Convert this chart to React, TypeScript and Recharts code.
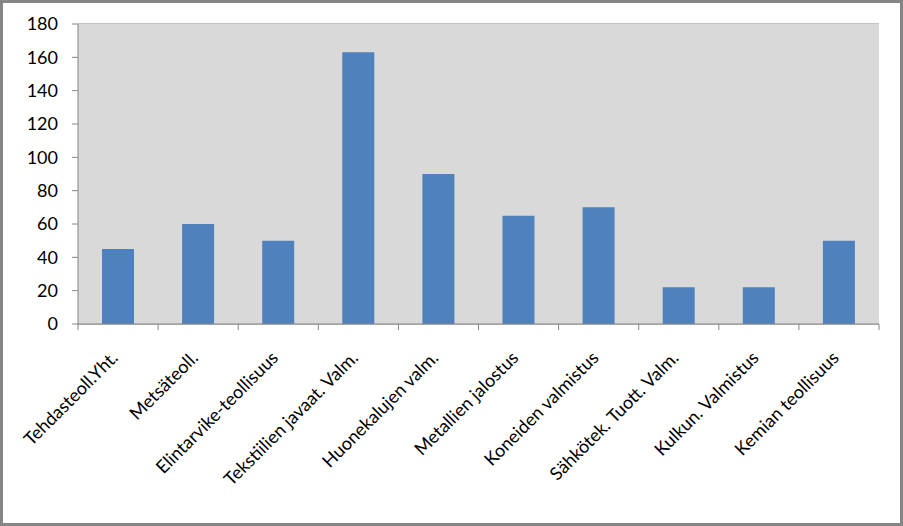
import { BarChart, Bar, XAxis, YAxis, CartesianGrid } from 'recharts';

const categories = [
  'Tehdasteoll.Yht.',
  'Metsäteoll.',
  'Elintarvike-teollisuus',
  'Tekstiilien javaat. Valm.',
  'Huonekalujen valm.',
  'Metallien jalostus',
  'Koneiden valmistus',
  'Sähkötek. Tuott. Valm.',
  'Kulkun. Valmistus',
  'Kemian teollisuus',
];
const values = [45, 60, 50, 163, 90, 65, 70, 22, 22, 50];
const yTicks = [0, 20, 40, 60, 80, 100, 120, 140, 160, 180];

const data = categories.map((name, i) => ({ name, value: values[i] }));

const W = 903;
const H = 526;
const M = { top: 24, right: 24, left: 0, bottom: 0 };
const Y_W = 78;
const BAND = (W - M.left - M.right - Y_W) / categories.length;
const GRAY = '#868686';
const FONT = 'Lato, "Open Sans", sans-serif';

const CatTick = (props: any) => {
  const { x, y, payload, index } = props;
  const left = x - BAND / 2;
  const tx = x + 1;
  const ty = y + 35;
  return (
    <g>
      <line x1={left} y1={y} x2={left} y2={y + 6} stroke={GRAY} />
      {index === categories.length - 1 && (
        <line x1={left + BAND} y1={y} x2={left + BAND} y2={y + 6} stroke={GRAY} />
      )}
      <text
        x={tx}
        y={ty}
        textAnchor="end"
        transform={`rotate(-45, ${tx}, ${ty})`}
        style={{ fontFamily: FONT, fontSize: 18, fill: '#000' }}
      >
        {payload.value}
      </text>
    </g>
  );
};

export default function App() {
  return (
    <div
      style={{
        position: 'absolute',
        left: 0,
        top: 0,
        width: W,
        height: H,
        boxSizing: 'border-box',
        border: '3px solid #858585',
        background: '#fff',
      }}
    >
      <div style={{ position: 'absolute', left: -3, top: -3 }}>
        <BarChart width={W} height={H} data={data} margin={M}>
          <rect x={Y_W} y={M.top} width={W - M.right - Y_W} height={300} fill="#d9d9d9" />
          <CartesianGrid vertical={false} stroke={GRAY} strokeDasharray="0" fill="#d9d9d9" />
          <XAxis
            dataKey="name"
            interval={0}
            height={H - M.top - 300}
            axisLine={{ stroke: GRAY }}
            tickLine={false}
            tickSize={0}
            tickMargin={0}
            tick={<CatTick />}
          />
          <YAxis
            width={Y_W}
            domain={[0, 180]}
            ticks={yTicks}
            interval={0}
            axisLine={{ stroke: GRAY }}
            tickLine={{ stroke: GRAY }}
            tickSize={6}
            tickMargin={14}
            tick={{ fontFamily: FONT, fontSize: 18, fill: '#000' }}
          />
          <Bar dataKey="value" fill="#4f81bd" barSize={32} isAnimationActive={false} />
        </BarChart>
      </div>
    </div>
  );
}
